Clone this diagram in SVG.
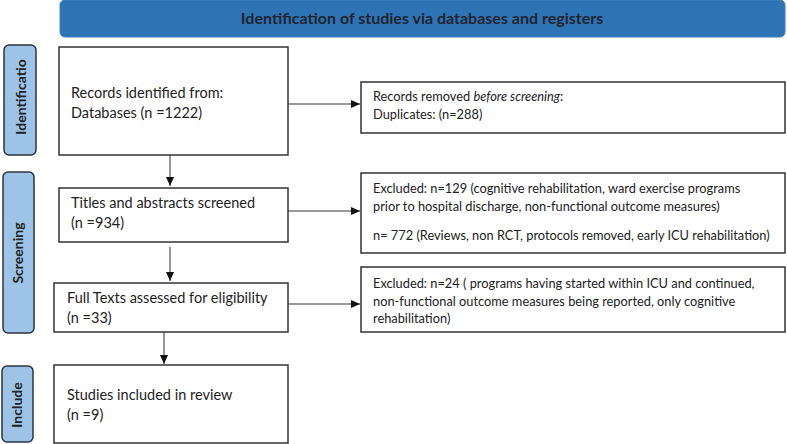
<svg xmlns="http://www.w3.org/2000/svg" width="787" height="444" viewBox="0 0 787 444">
<defs>
<style>
.box{fill:#fff;stroke:#333;stroke-width:1.5}
.tab{fill:#9DC3E6;stroke:#2b3440;stroke-width:1.5}
.t{font-family:Lato,"Liberation Sans",sans-serif;font-size:12.8px;fill:#222}
.tb{font-family:Lato,"Liberation Sans",sans-serif;font-size:14.5px;fill:#222}
.tl{font-family:Lato,"Liberation Sans",sans-serif;font-size:14px;font-weight:bold;fill:#222}
.hd{font-family:Lato,"Liberation Sans",sans-serif;font-size:16px;font-weight:bold;fill:#1e2530}
.c{stroke:#333;stroke-width:1;fill:none}
</style>
<marker id="ah" markerWidth="9" markerHeight="8" refX="9" refY="4" orient="auto" markerUnits="userSpaceOnUse">
<path d="M0,0 L9,4 L0,8 Z" fill="#111"/>
</marker>
</defs>
<rect width="787" height="444" fill="#fff"/>
<g id="header">
<rect x="60" y="0" width="725" height="37" rx="5" fill="#2E74B5" stroke="#3b7fc0" stroke-width="1"/>
<text class="hd" x="422" y="24" text-anchor="middle">Identification of studies via databases and registers</text>
</g>
<g id="tab-identification">
<rect class="tab" x="4" y="45" width="32" height="110" rx="5"/>
<text class="tl" transform="translate(26,97) rotate(-90)" text-anchor="middle">Identificatio</text>
</g>
<g id="tab-screening">
<rect class="tab" x="3" y="172" width="31" height="161" rx="5"/>
<text class="tl" transform="translate(23,253) rotate(-90)" text-anchor="middle">Screening</text>
</g>
<g id="tab-include">
<rect class="tab" x="2" y="366" width="31" height="76" rx="5"/>
<text class="tl" transform="translate(22,405) rotate(-90)" text-anchor="middle">Include</text>
</g>
<g id="records-identified">
<rect class="box" x="59" y="47" width="229" height="108"/>
<text class="tb" x="71" y="98">Records identified from:</text>
<text class="tb" x="71" y="118">Databases (n =1222)</text>
</g>
<g id="records-removed">
<rect class="box" x="361" y="82" width="424" height="51"/>
<text class="t" x="373" y="101">Records removed <tspan font-style="italic">before screening</tspan>:</text>
<text class="t" x="373" y="119">Duplicates: (n=288)</text>
</g>
<g id="titles-screened">
<rect class="box" x="59" y="188" width="229" height="54"/>
<text class="tb" x="71" y="208">Titles and abstracts screened</text>
<text class="tb" x="71" y="228">(n =934)</text>
</g>
<g id="excluded-1">
<rect class="box" x="361" y="173" width="424" height="80"/>
<text class="t" x="373" y="193">Excluded: n=129 (cognitive rehabilitation, ward exercise programs</text>
<text class="t" x="373" y="211">prior to hospital discharge, non-functional outcome measures)</text>
<text class="t" x="373" y="240">n= 772 (Reviews, non RCT, protocols removed, early ICU rehabilitation)</text>
</g>
<g id="full-texts">
<rect class="box" x="54" y="283" width="234" height="49"/>
<text class="tb" x="67" y="303">Full Texts assessed for eligibility</text>
<text class="tb" x="67" y="323">(n =33)</text>
</g>
<g id="excluded-2">
<rect class="box" x="361" y="267" width="424" height="65"/>
<text class="t" x="373" y="288">Excluded: n=24 ( programs having started within ICU and continued,</text>
<text class="t" x="373" y="306">non-functional outcome measures being reported, only cognitive</text>
<text class="t" x="373" y="323">rehabilitation)</text>
</g>
<g id="studies-included">
<rect class="box" x="54" y="365" width="234" height="78"/>
<text class="tb" x="67" y="400">Studies included in review</text>
<text class="tb" x="67" y="420">(n =9)</text>
</g>
<g id="connectors">
<line class="c" x1="288" y1="104" x2="360" y2="104" marker-end="url(#ah)"/>
<line class="c" x1="170" y1="155" x2="170" y2="186" marker-end="url(#ah)"/>
<line class="c" x1="288" y1="211" x2="360" y2="211" marker-end="url(#ah)"/>
<line class="c" x1="170" y1="247" x2="170" y2="281" marker-end="url(#ah)"/>
<line class="c" x1="288" y1="304" x2="360" y2="304" marker-end="url(#ah)"/>
<line class="c" x1="164" y1="332" x2="164" y2="364" marker-end="url(#ah)"/>
</g>
</svg>
